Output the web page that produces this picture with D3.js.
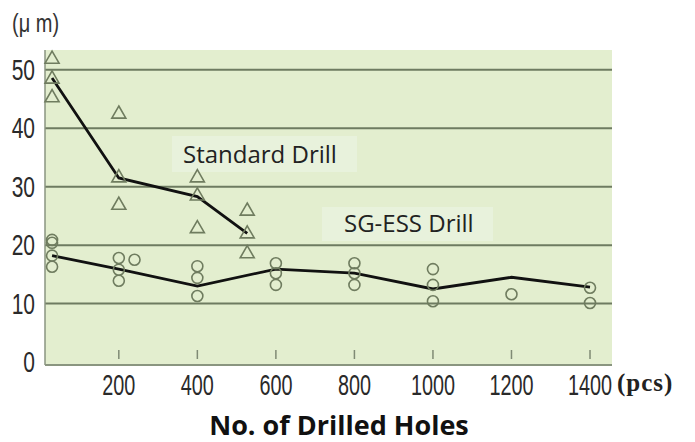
<!DOCTYPE html>
<html>
<head>
<meta charset="utf-8">
<script src="https://cdn.jsdelivr.net/npm/d3@7"></script>
<style>
  body { margin: 0; background: #fff; }
  svg { display: block; }
</style>
</head>
<body>
<svg id="chart" width="695" height="442"></svg>
<script>
var xTicks = [200, 400, 600, 800, 1000, 1200, 1400];
var yTicks = [0, 10, 20, 30, 40, 50];

// standard drill: measured points and mean line
var stdX = [30, 30, 30, 200, 200, 200, 400, 400, 400, 527, 527, 527];
var stdY = [52, 48.6, 45.4, 42.6, 31.7, 27, 31.7, 28.6, 23, 26, 22.1, 18.7];
var stdLineX = [30, 200, 400, 527];
var stdLineY = [48.6, 31.5, 28.3, 22];

// SG-ESS drill
var essX = [30, 30, 30, 30, 200, 200, 200, 240, 400, 400, 400, 600, 600, 600, 800, 800, 800, 1000, 1000, 1000, 1200, 1400, 1400];
var essY = [20.9, 20.4, 18.2, 16.3, 17.8, 15.8, 13.9, 17.5, 16.4, 14.4, 11.3, 16.9, 15.2, 13.2, 16.9, 15.2, 13.2, 15.9, 13.2, 10.4, 11.6, 12.7, 10.1];
var essLineX = [30, 200, 400, 600, 800, 1000, 1200, 1400];
var essLineY = [18.2, 15.9, 13, 15.9, 15.2, 12.5, 14.5, 12.8];

var svg = d3.select("#chart");
var pLeft = 45, pRight = 612, pTop = 50, pBottom = 362;

var x = d3.scaleLinear().domain([12, 1456]).range([pLeft, pRight]);
var y = d3.scaleLinear().domain([0, 53.4]).range([pBottom, pTop]);

var markColor = "#6f7c5f";

// plot background
svg.append("rect")
    .attr("x", pLeft).attr("y", pTop)
    .attr("width", pRight - pLeft).attr("height", pBottom - pTop + 3)
    .attr("fill", "#e3eecf");

// grid lines
svg.append("g")
  .selectAll("line")
  .data(yTicks.filter(function (d) { return d > 0; }))
  .enter().append("line")
    .attr("x1", pLeft).attr("x2", pRight)
    .attr("y1", function (d) { return y(d); })
    .attr("y2", function (d) { return y(d); })
    .attr("stroke", "#6e7b61")
    .attr("stroke-width", 2);

// light boxes behind the labels
svg.append("rect")
    .attr("x", 172).attr("y", 136).attr("width", 185).attr("height", 36)
    .attr("fill", "#e8f2dc");
svg.append("rect")
    .attr("x", 322).attr("y", 207).attr("width", 171).attr("height", 34)
    .attr("fill", "#e8f2dc");

// axes lines
svg.append("line")
    .attr("x1", pLeft).attr("x2", pLeft).attr("y1", pTop).attr("y2", pBottom + 3)
    .attr("stroke", "#8a9580").attr("stroke-width", 1.5);
svg.append("line")
    .attr("x1", pLeft).attr("x2", pRight).attr("y1", pBottom + 3).attr("y2", pBottom + 3)
    .attr("stroke", "#8a9580").attr("stroke-width", 2);

// small inner tick marks
svg.append("g")
  .selectAll("line")
  .data(xTicks)
  .enter().append("line")
    .attr("x1", function (d) { return x(d); })
    .attr("x2", function (d) { return x(d); })
    .attr("y1", pBottom - 12).attr("y2", pBottom - 3)
    .attr("stroke", "#7f8a74").attr("stroke-width", 1.5);

// tick labels, squeezed horizontally like the condensed original
var tickFont = "'Liberation Sans', Arial, sans-serif";
svg.append("g")
  .selectAll("text")
  .data(xTicks)
  .enter().append("text")
    .attr("transform", function (d) { return "translate(" + x(d) + "," + (pBottom + 33) + ") scale(0.66,1)"; })
    .attr("text-anchor", "middle")
    .attr("font-family", tickFont)
    .attr("font-size", 30)
    .attr("fill", "#2a2a2a")
    .text(function (d) { return d; });

svg.append("g")
  .selectAll("text")
  .data(yTicks)
  .enter().append("text")
    .attr("transform", function (d) { return "translate(35," + (y(d) + 10) + ") scale(0.7,1)"; })
    .attr("text-anchor", "end")
    .attr("font-family", tickFont)
    .attr("font-size", 30)
    .attr("fill", "#2a2a2a")
    .text(function (d) { return d; });

svg.append("text")
    .attr("transform", "translate(12,32) scale(0.8,1)")
    .attr("font-family", tickFont)
    .attr("font-size", 25)
    .attr("fill", "#333")
    .text("(μ m)");

svg.append("text")
    .attr("x", 617).attr("y", pBottom + 29)
    .attr("font-family", "'Liberation Serif', 'DejaVu Serif', serif")
    .attr("font-weight", "bold")
    .attr("font-size", 25)
    .attr("letter-spacing", 1)
    .attr("fill", "#222")
    .text("(pcs)");

svg.append("text")
    .attr("x", 339).attr("y", 435)
    .attr("text-anchor", "middle")
    .attr("font-family", "'Open Sans', 'Noto Sans', sans-serif")
    .attr("font-weight", "bold")
    .attr("font-size", 27)
    .attr("fill", "#111")
    .text("No. of Drilled Holes");

svg.append("text")
    .attr("x", 183).attr("y", 163)
    .attr("font-family", "'Open Sans', 'Noto Sans', sans-serif")
    .attr("font-size", 24)
    .attr("fill", "#222")
    .text("Standard Drill");

svg.append("text")
    .attr("x", 344).attr("y", 232)
    .attr("font-family", "'Open Sans', 'Noto Sans', sans-serif")
    .attr("font-size", 24)
    .attr("fill", "#222")
    .text("SG-ESS Drill");

// mean lines
var line = d3.line()
    .x(function (d) { return x(d[0]); })
    .y(function (d) { return y(d[1]); });

svg.append("path")
    .datum(d3.zip(stdLineX, stdLineY))
    .attr("d", line)
    .attr("fill", "none")
    .attr("stroke", "#111")
    .attr("stroke-width", 2.8);

svg.append("path")
    .datum(d3.zip(essLineX, essLineY))
    .attr("d", line)
    .attr("fill", "none")
    .attr("stroke", "#111")
    .attr("stroke-width", 2.8);

// markers
var tri = d3.symbol().type(d3.symbolTriangle).size(85);
svg.append("g")
  .selectAll("path")
  .data(d3.zip(stdX, stdY))
  .enter().append("path")
    .attr("d", tri)
    .attr("transform", function (d) { return "translate(" + x(d[0]) + "," + (y(d[1]) + 1) + ")"; })
    .attr("fill", "none")
    .attr("stroke", markColor)
    .attr("stroke-width", 1.6);

svg.append("g")
  .selectAll("circle")
  .data(d3.zip(essX, essY))
  .enter().append("circle")
    .attr("cx", function (d) { return x(d[0]); })
    .attr("cy", function (d) { return y(d[1]); })
    .attr("r", 5.5)
    .attr("fill", "none")
    .attr("stroke", markColor)
    .attr("stroke-width", 1.6);
</script>
</body>
</html>
